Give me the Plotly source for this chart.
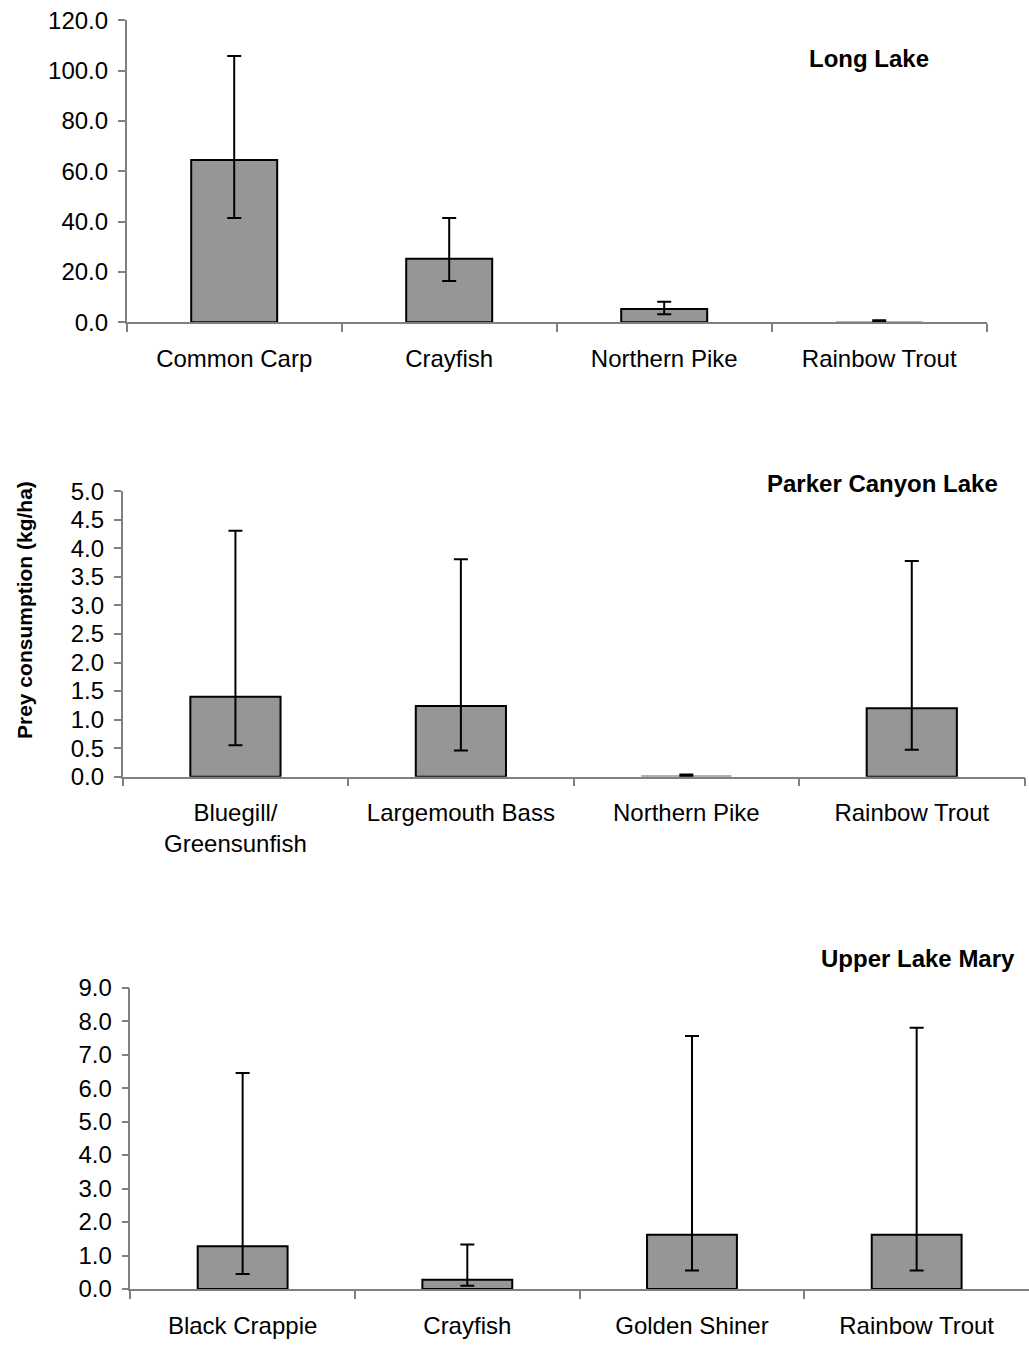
import plotly.graph_objects as go

W, H = 1029, 1352

# Long Lake
long_cats = ["Common Carp", "Crayfish", "Northern Pike", "Rainbow Trout"]
long_vals = [64.5, 25.3, 5.3, 0.2]
long_upper = [105.8, 41.4, 8.2, 0.8]
long_lower = [41.4, 16.4, 3.2, 0.1]

# Parker Canyon Lake
parker_cats = ["Bluegill/<br>Greensunfish", "Largemouth Bass", "Northern Pike", "Rainbow Trout"]
parker_vals = [1.40, 1.24, 0.02, 1.20]
parker_upper = [4.31, 3.81, 0.04, 3.78]
parker_lower = [0.55, 0.46, 0.01, 0.47]

# Upper Lake Mary
mary_cats = ["Black Crappie", "Crayfish", "Golden Shiner", "Rainbow Trout"]
mary_vals = [1.28, 0.28, 1.62, 1.62]
mary_upper = [6.45, 1.33, 7.56, 7.80]
mary_lower = [0.45, 0.10, 0.55, 0.55]

titles = ["Long Lake", "Parker Canyon Lake", "Upper Lake Mary"]
y_title = "Prey consumption (kg/ha)"

FONT = "Liberation Sans, Arial, sans-serif"
AXIS_COLOR = "#808080"

panels = [
    dict(cats=long_cats, vals=long_vals, up=long_upper, lo=long_lower,
         xdom=(126.7, 986.7), ydom=(20.3, 322.3), yrange=(0, 120), dtick=20,
         title_pos=(869, 59), outline=[2, 2, 2, 0]),
    dict(cats=parker_cats, vals=parker_vals, up=parker_upper, lo=parker_lower,
         xdom=(122.7, 1024.5), ydom=(491.3, 776.7), yrange=(0, 5), dtick=0.5,
         title_pos=(882, 484), outline=[2, 2, 0, 2]),
    dict(cats=mary_cats, vals=mary_vals, up=mary_upper, lo=mary_lower,
         xdom=(130.3, 1029), ydom=(987.7, 1289), yrange=(0, 9), dtick=1,
         title_pos=(918, 958), outline=[2, 2, 2, 2]),
]

fig = go.Figure()
layout = dict(
    width=W, height=H,
    margin=dict(l=0, r=0, t=0, b=0, pad=0, autoexpand=False),
    paper_bgcolor="white", plot_bgcolor="white",
    showlegend=False,
    font=dict(family=FONT, size=24, color="black"),
    annotations=[],
)

for i, p in enumerate(panels):
    n = "" if i == 0 else str(i + 1)
    fig.add_trace(go.Bar(
        x=p["cats"], y=p["vals"],
        xaxis="x" + n, yaxis="y" + n,
        width=0.4,
        marker=dict(color="#969696", line=dict(color="black", width=p["outline"])),
        error_y=dict(
            type="data", symmetric=False,
            array=[u - v for u, v in zip(p["up"], p["vals"])],
            arrayminus=[v - l for v, l in zip(p["vals"], p["lo"])],
            color="black", thickness=2, width=7,
        ),
    ))
    x0, x1 = p["xdom"]
    y0, y1 = p["ydom"]
    layout["xaxis" + n] = dict(
        domain=[x0 / W, min(x1 / W, 1.0)],
        anchor="y" + n,
        type="category",
        range=[-0.5, 3.5],
        showline=True, linecolor=AXIS_COLOR, linewidth=1.5,
        ticks="outside", tickson="boundaries", ticklen=8, tickcolor=AXIS_COLOR, tickwidth=1.5,
        showgrid=False, zeroline=False, automargin=False,
        tickfont=dict(family=FONT, size=24, color="black"),
        ticklabelstandoff=14,
    )
    layout["yaxis" + n] = dict(
        domain=[1 - y1 / H, 1 - y0 / H],
        anchor="x" + n,
        range=list(p["yrange"]),
        dtick=p["dtick"], tick0=0,
        tickformat=".1f",
        showline=True, linecolor=AXIS_COLOR, linewidth=1.5,
        ticks="outside", ticklen=7, tickcolor=AXIS_COLOR, tickwidth=1.5,
        showgrid=False, zeroline=False, automargin=False,
        tickfont=dict(family=FONT, size=24, color="black"),
        ticklabelstandoff=5,
    )
    tx, ty = p["title_pos"]
    layout["annotations"].append(dict(
        text="<b>" + titles[i] + "</b>",
        x=tx / W, y=1 - ty / H, xref="paper", yref="paper",
        xanchor="center", yanchor="middle", showarrow=False,
        font=dict(family=FONT, size=24, color="black"),
    ))

layout["annotations"].append(dict(
    text="<b>" + y_title + "</b>",
    x=25 / W, y=1 - 610 / H, xref="paper", yref="paper",
    xanchor="center", yanchor="middle", showarrow=False, textangle=-90,
    font=dict(family=FONT, size=21, color="black"),
))

fig.update_layout(**layout)
fig.write_html("out.html")
